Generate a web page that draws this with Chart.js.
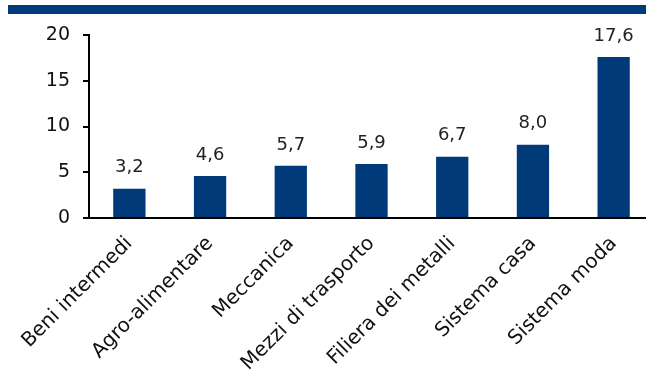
<!DOCTYPE html>
<html>
<head>
<meta charset="utf-8">
<script src="https://cdn.jsdelivr.net/npm/chart.js@4/dist/chart.umd.min.js"></script>
<style>
  html, body { margin: 0; padding: 0; background: #fff; overflow: hidden; }
  #wrap { position: relative; width: 660px; height: 376px; }
  #band { position: absolute; left: 8px; top: 5px; width: 652px; height: 9px; background: #003a78; z-index: 2; }
  #box { position: absolute; left: 0; top: 0; width: 660px; height: 376px; }
</style>
</head>
<body>
<div id="wrap">
  <div id="band"></div>
  <div id="box"><canvas id="barGraph"></canvas></div>
</div>
<script>
// categorie e valori (%)
const categorie = ["Beni intermedi", "Agro-alimentare", "Meccanica", "Mezzi di trasporto",
  "Filiera dei metalli", "Sistema casa", "Sistema moda"];
const valori = [3.2, 4.6, 5.7, 5.9, 6.7, 8.0, 17.6];
const tickY = [0, 5, 10, 15, 20];

const blu = "#003a78";
const font = "'DejaVu Sans', sans-serif";

// etichette sopra le barre, con la virgola
const valueLabels = {
  id: "valueLabels",
  afterDatasetsDraw(chart) {
    const ctx = chart.ctx;
    const meta = chart.getDatasetMeta(0);
    ctx.save();
    ctx.font = "18px " + font;
    ctx.fillStyle = "#222";
    ctx.textAlign = "center";
    ctx.textBaseline = "bottom";
    meta.data.forEach((bar, i) => {
      ctx.fillText(valori[i].toFixed(1).replace(".", ","), bar.x, bar.y - 12);
    });
    ctx.restore();
  }
};

const data = {
  labels: categorie,
  datasets: [{
    data: valori,
    backgroundColor: blu,
    barPercentage: 0.4,
    categoryPercentage: 1
  }]
};

const config = {
  type: "bar",
  data,
  options: {
    responsive: true,
    maintainAspectRatio: false,
    animation: false,
    layout: { padding: { top: 35, right: 6, left: 0, bottom: 0 } },
    plugins: { legend: { display: false }, tooltip: { enabled: false } },
    scales: {
      x: {
        grid: { display: false },
        border: { display: true, color: "#000", width: 2 },
        ticks: {
          color: "#111",
          font: { family: font, size: 20 },
          minRotation: 45,
          maxRotation: 45,
          autoSkip: false,
          padding: 6
        },
        afterFit(s) { s.height = 158; }
      },
      y: {
        min: 0,
        max: 20,
        afterBuildTicks(s) { s.ticks = tickY.map(v => ({ value: v })); },
        grid: { drawOnChartArea: false, drawTicks: true, tickLength: 6, color: "#000", lineWidth: 2 },
        border: { display: true, color: "#000", width: 2 },
        ticks: {
          color: "#111",
          font: { family: font, size: 19 },
          padding: 13
        },
        afterFit(s) { s.width = 89; }
      }
    }
  },
  plugins: [valueLabels]
};

new Chart(document.getElementById("barGraph"), config);
</script>
</body>
</html>
